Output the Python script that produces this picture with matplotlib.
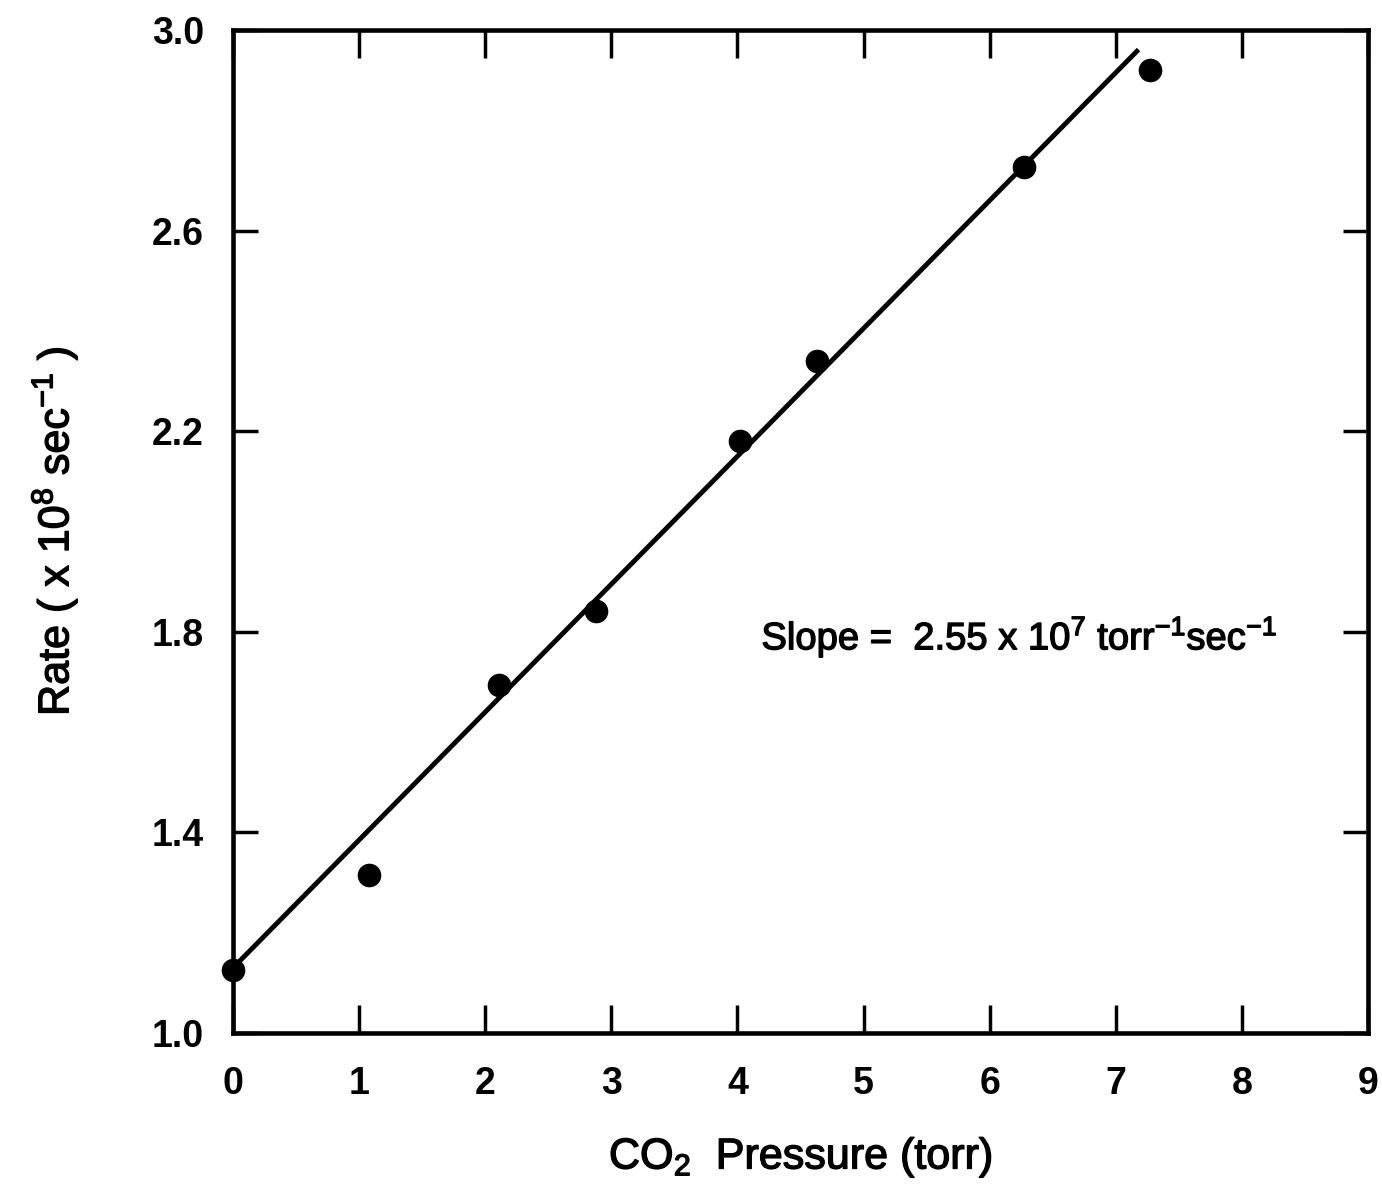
import matplotlib
matplotlib.use("Agg")
import matplotlib.pyplot as plt
import matplotlib.patheffects as pe
import numpy as np

# Measured rate vs CO2 pressure
pressure = [0.0, 1.08, 2.11, 2.88, 4.02, 4.63, 6.27, 7.27]
rate = [1.125, 1.315, 1.694, 1.842, 2.18, 2.34, 2.727, 2.92]

# Linear fit (rate in 1e8 s^-1, slope 2.55e7 torr^-1 s^-1)
fit_slope = 0.255
fit_intercept = 1.13
fit_range = [0.0, 7.18]

xticks = [0, 1, 2, 3, 4, 5, 6, 7, 8, 9]
yticks = [1.0, 1.4, 1.8, 2.2, 2.6, 3.0]

plt.rcParams['font.family'] = ['Liberation Sans', 'DejaVu Sans']
plt.rcParams['mathtext.fontset'] = 'custom'
plt.rcParams['mathtext.rm'] = 'Liberation Sans'
plt.rcParams['mathtext.it'] = 'Liberation Sans'
plt.rcParams['mathtext.bf'] = 'Liberation Sans:bold'

fig = plt.figure(figsize=(13.82, 11.98), dpi=100)
ax = fig.add_axes([0.1686, 0.1377, 0.9899 - 0.1686, 0.975 - 0.1377])

fx = np.array(fit_range)
ax.plot(fx, fit_intercept + fit_slope * fx, color='black', lw=3.5,
        solid_capstyle='butt', zorder=2)
ax.plot(pressure, rate, 'o', color='black', ms=16, zorder=3, clip_on=False)

ax.set_xlim(0, 9)
ax.set_ylim(1.0, 3.0)
ax.set_xticks(xticks)
ax.set_yticks(yticks)
ax.set_xticklabels([str(t) for t in xticks], fontsize=27, fontweight='bold')
ax.set_yticklabels([f"{t:.1f}" for t in yticks], fontsize=27, fontweight='bold')

ax.tick_params(axis='both', direction='in', width=2.5, top=True, right=True)
ax.tick_params(axis='x', length=20, pad=24)
ax.tick_params(axis='y', length=18, pad=21)
for s in ax.spines.values():
    s.set_linewidth(3.3)

heavy = [pe.withStroke(linewidth=1.0, foreground='black')]

xl = ax.set_xlabel(r"CO$_2$  Pressure (torr)", fontsize=31, labelpad=24)
yl = ax.set_ylabel(r"Rate ( x 10$^8$ sec$^{-1}$ )", fontsize=31, labelpad=52)
xl.set_path_effects(heavy)
yl.set_path_effects(heavy)

st = ax.text(4.19, 1.79, r"Slope =  2.55 x 10$^7$ torr$^{-1}$sec$^{-1}$",
             fontsize=27.5, va='center', ha='left')
st.set_path_effects(heavy)

fig.savefig("out.png", dpi=100)
